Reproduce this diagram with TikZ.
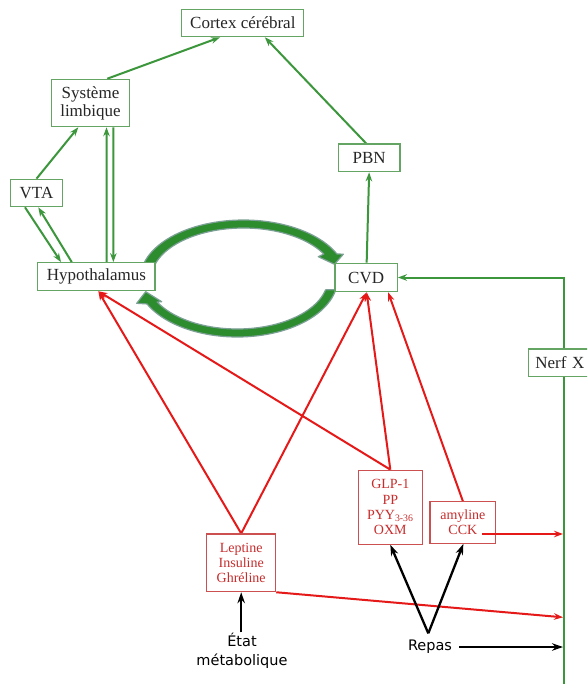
\documentclass[tikz,border=0pt]{standalone}
\usepackage{fontspec}
\setmainfont{Liberation Serif}
\newfontfamily\comicfont{DejaVu Sans}
\usetikzlibrary{arrows.meta}
\pgfdeclarelayer{bg}
\pgfsetlayers{bg,main}
\definecolor{gline}{RGB}{60,150,60}
\definecolor{gbord}{RGB}{100,165,100}
\definecolor{rline}{RGB}{230,25,25}
\definecolor{rtext}{RGB}{200,45,45}
\definecolor{rbord}{RGB}{205,80,80}
\definecolor{afill}{RGB}{45,140,45}
\definecolor{aedge}{RGB}{125,160,150}
\begin{document}
\begin{tikzpicture}[x=1pt,y=-1pt,
 gbox/.style={draw=gbord, line width=1.2pt, fill=white, inner sep=0pt, font=\fontsize{17}{18}\selectfont, align=center, text=black!85},
 rbox/.style={draw=rbord, line width=1.1pt, fill=white, inner sep=0pt, font=\fontsize{14}{15.3}\selectfont, align=center, text=rtext},
 garrow/.style={draw=gline, line width=2pt, -{Stealth[length=9pt,width=6.5pt]}},
 rarrow/.style={draw=rline, line width=2pt, -{Stealth[length=9pt,width=6.5pt]}},
 karrow/.style={draw=black, line width=2.3pt, -{Stealth[length=11pt,width=7.5pt]}},
 bigarrow/.style={fill=afill, draw=aedge, line width=1.2pt, line join=round},
 plain/.style={inner sep=1pt, font=\comicfont\fontsize{14.5}{19}\selectfont, align=center},
]
\useasboundingbox (0,0) rectangle (587,684);
\clip (0,0) rectangle (587,684);

% boxes
\node[gbox, minimum width=122pt, minimum height=27.4pt] (cortex) at (242.85,23) {Cortex cérébral};
\node[gbox, minimum width=77.6pt, minimum height=47.4pt] (limb) at (90.5,103) {Système\\limbique};
\node[gbox, minimum width=51.6pt, minimum height=27.4pt] (vta) at (36.5,193) {VTA};
\node[gbox, minimum width=117.3pt, minimum height=28pt] (hyp) at (96.35,276.7) {Hypothalamus};
\node[gbox, minimum width=61.7pt, minimum height=27.7pt] (pbn) at (369.15,157.85) {PBN};
\node[gbox, minimum width=62.3pt, minimum height=28.4pt] (cvd) at (366.15,277.5) {CVD};
\node[gbox, anchor=west, minimum height=27.7pt, text width=62pt, align=left, inner xsep=7pt] (nerf) at (527.7,362.9) {Nerf X};
\node[rbox, minimum width=64pt, minimum height=74pt] (glp) at (390.3,507.15) {GLP-1\\PP\\PYY\textsubscript{3-36}\\OXM};
\node[rbox, minimum width=65.7pt, minimum height=41.6pt] (amy) at (462.85,522.5) {amyline\\CCK};
\node[rbox, minimum width=69pt, minimum height=57.7pt] (lep) at (241.2,562.85) {Leptine\\Insuline\\Ghréline};
\node[plain] (etat) at (242,651.2) {État\\métabolique};
\node[plain] (repas) at (430,647) {Repas};

\coordinate (nb) at (564,690);
\coordinate (n1) at (563,534);
\coordinate (n2) at (563,617.3);
\coordinate (n3) at (563,647);
\coordinate (v) at (428.3,633.3);

\begin{pgfonlayer}{bg}
\fill[white] (0,0) rectangle (587,684);
% curved block arrows
\path[bigarrow] plot[domain=167:24.8, samples=50] ({243.4+103*cos(\x)},{278.5-58.5*sin(\x)})
  -- (343.3,254.2) -- (334.5,264.3) -- (318.3,256.7)
  -- plot[domain=29:164, samples=50] ({243.4+92*cos(\x)},{278.5-50.5*sin(\x)}) -- cycle;
\path[bigarrow] plot[domain=-11:-154.2, samples=50] ({237.3+100.3*cos(\x)},{278.5-58.5*sin(\x)})
  -- (136.7,303.3) -- (145.7,291.7) -- (161.7,301.7)
  -- plot[domain=-152.3:-13, samples=50] ({237.3+90.5*cos(\x)},{278.5-50.5*sin(\x)}) -- cycle;

% green connectors
\draw[garrow] ([xshift=16.8pt]limb.north) -- ([xshift=-22.8pt]cortex.south);
\draw[garrow] ([xshift=-3pt]pbn.north) -- ([xshift=22pt]cortex.south);
\draw[garrow] ([xshift=0.5pt]cvd.north) -- (pbn.south);
\draw[garrow] (vta.north) -- ([xshift=-12.2pt]limb.south);
\draw[garrow] ([xshift=-11.5pt]vta.south) -- ([xshift=-35.3pt]hyp.north);
\draw[garrow] ([xshift=-24.6pt]hyp.north) -- ([xshift=1.8pt]vta.south);
\draw[garrow] ([xshift=10.2pt]hyp.north) -- ([xshift=16pt]limb.south);
\draw[garrow] ([xshift=22.8pt]limb.south) -- ([xshift=17pt]hyp.north);
\draw[garrow] (nb) |- (cvd.east);

% red connectors
\draw[rarrow] (lep.north) -- ([xshift=2pt]hyp.south);
\draw[rarrow] (lep.north) -- ([xshift=0.5pt]cvd.south);
\draw[rarrow] (glp.north) -- ([xshift=2pt]hyp.south);
\draw[rarrow] (glp.north) -- ([xshift=0.5pt]cvd.south);
\draw[rarrow] (amy.north) -- ([xshift=22pt]cvd.south);
\draw[rarrow] (lep.south east) -- (n2);

% black connectors
\draw[karrow] (v) -- (glp.south);
\draw[karrow] (v) -- ([xshift=0.5pt]amy.south);
\draw[karrow] ([xshift=6pt]repas.east) -- (n3);
\draw[karrow] (lep.south |- etat.north) -- (lep.south);
\end{pgfonlayer}

\draw[rarrow] ([xshift=18.9pt,yshift=-11.5pt]amy.center) -- (n1);
\end{tikzpicture}
\end{document}
